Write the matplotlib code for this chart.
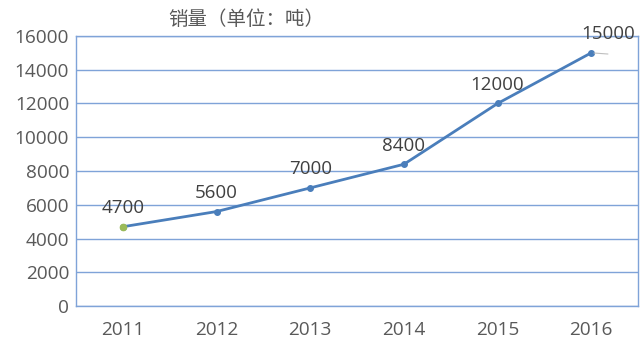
import matplotlib.pyplot as plt

plt.rcParams['font.family'] = ['Open Sans', 'Noto Sans CJK SC', 'DejaVu Sans']

years = ['2011', '2012', '2013', '2014', '2015', '2016']
sales = [4700, 5600, 7000, 8400, 12000, 15000]
title = '销量（单位：吨）'

line_c = '#4a7ebb'
grid_c = '#7fa3d8'
text_c = '#595959'

fig = plt.figure(figsize=(6.4, 3.49), dpi=100)
ax = fig.add_axes([0.119, 0.123, 0.878, 0.774])

x = list(range(len(years)))
ax.plot(x, sales, color=line_c, lw=2, marker='o', ms=4, zorder=3)
ax.plot(x[0], sales[0], 'o', color='#9bbb59', ms=4.5, zorder=4)

for i, v in enumerate(sales):
    dx = 12 if i == len(sales) - 1 else 0
    ax.annotate(str(v), (i, v), xytext=(dx, 7), textcoords='offset points',
                ha='center', va='bottom', fontsize=13.5, color='#404040')
# small leader line for the last label
ax.annotate('', (x[-1], sales[-1]), xytext=(14, -1), textcoords='offset points',
            arrowprops=dict(arrowstyle='-', color='#bfbfbf', lw=0.8))

ax.set_xlim(-0.5, 5.5)
ax.set_ylim(0, 16000)
ax.set_yticks(range(0, 16001, 2000))
ax.set_xticks(x)
ax.set_xticklabels(years)
ax.tick_params(length=0, labelsize=13.7, colors=text_c)
ax.tick_params(axis='x', pad=11)
ax.tick_params(axis='y', pad=5)
ax.grid(axis='y', color=grid_c, lw=1)
ax.set_axisbelow(True)
for s in ax.spines.values():
    s.set_color(grid_c)
    s.set_linewidth(1)

fig.text(0.385, 0.945, title, ha='center', va='center', fontsize=14,
         fontweight='medium', color=text_c,
         family=['Noto Sans CJK SC', 'DejaVu Sans'])

fig.savefig('out.png', dpi=100)
